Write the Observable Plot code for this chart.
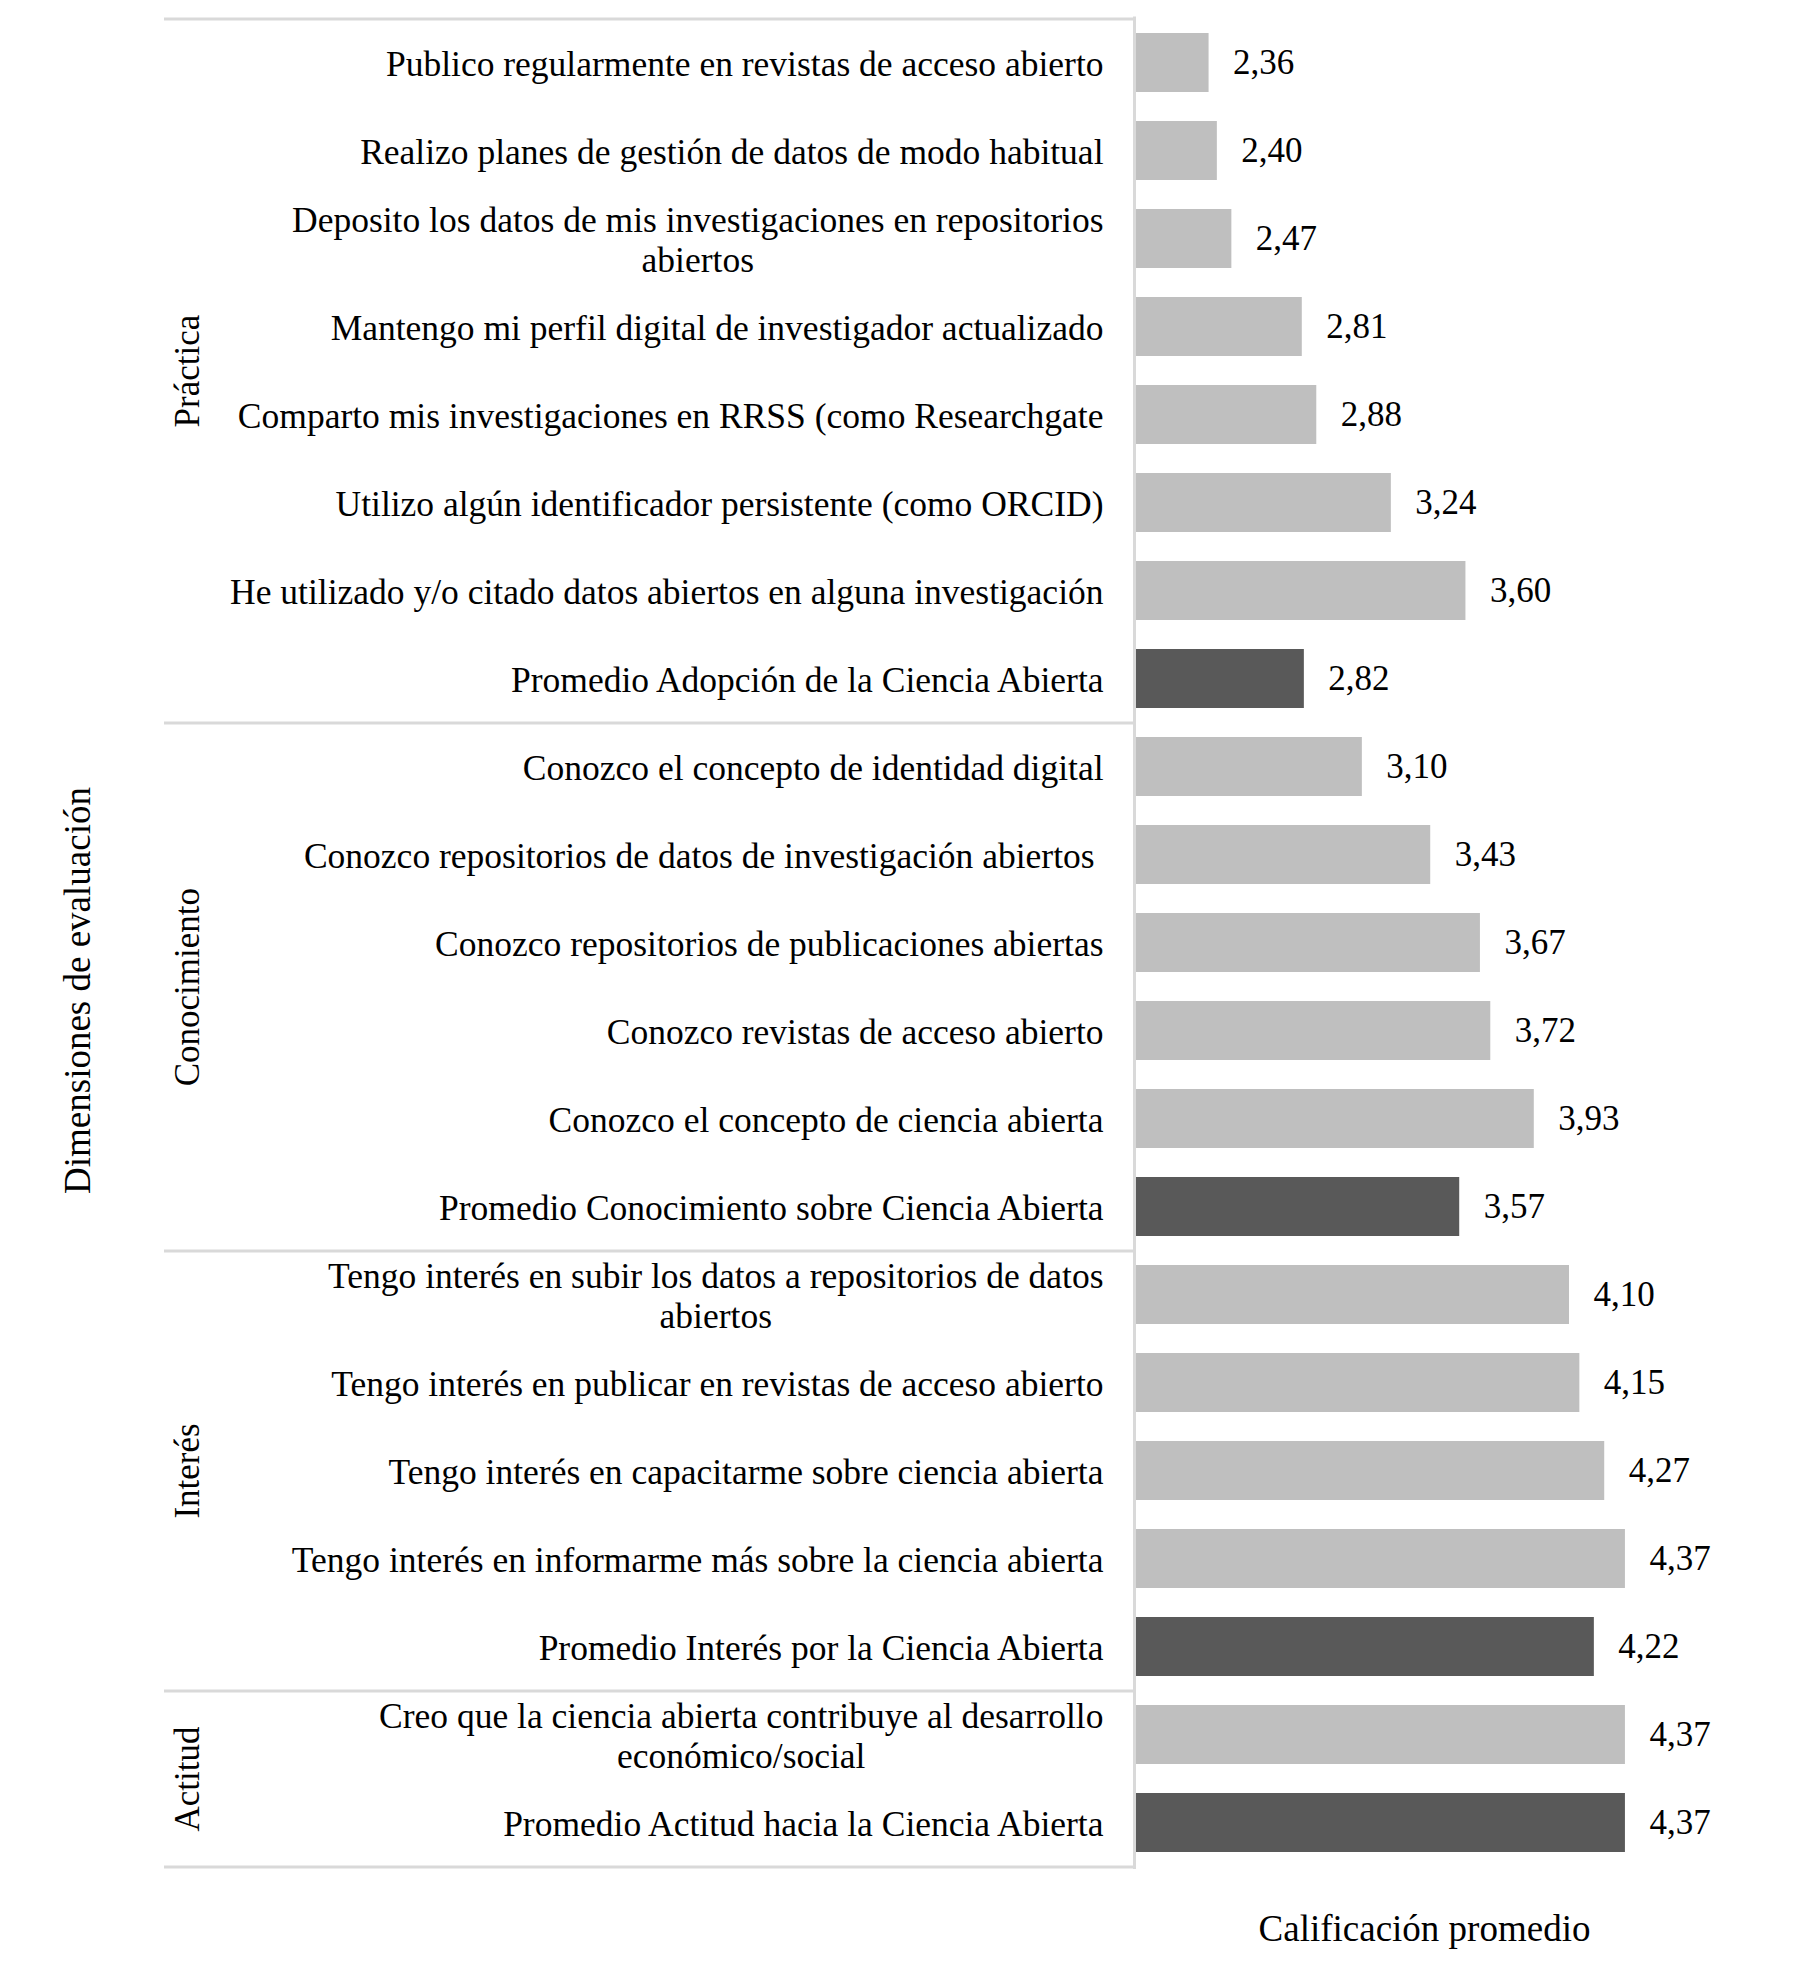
<!DOCTYPE html>
<html>
<head>
<meta charset="utf-8">
<script src="https://cdn.jsdelivr.net/npm/d3@7"></script>
<script src="https://cdn.jsdelivr.net/npm/@observablehq/plot@0.6"></script>
<style>
  html, body { margin: 0; padding: 0; background: #fff; }
</style>
</head>
<body>
<div id="chart"></div>
<script>
// ---- data ----
const categories = [
  "Publico regularmente en revistas de acceso abierto",
  "Realizo planes de gestión de datos de modo habitual",
  "Deposito los datos de mis investigaciones en repositorios\nabiertos",
  "Mantengo mi perfil digital de investigador actualizado",
  "Comparto mis investigaciones en RRSS (como Researchgate",
  "Utilizo algún identificador persistente (como ORCID)",
  "He utilizado y/o citado datos abiertos en alguna investigación",
  "Promedio Adopción de la Ciencia Abierta",
  "Conozco el concepto de identidad digital",
  "Conozco repositorios de datos de investigación abiertos\u00a0",
  "Conozco repositorios de publicaciones abiertas",
  "Conozco revistas de acceso abierto",
  "Conozco el concepto de ciencia abierta",
  "Promedio Conocimiento sobre Ciencia Abierta",
  "Tengo interés en subir los datos a repositorios de datos\nabiertos",
  "Tengo interés en publicar en revistas de acceso abierto",
  "Tengo interés en capacitarme sobre ciencia abierta",
  "Tengo interés en informarme más sobre la ciencia abierta",
  "Promedio Interés por la Ciencia Abierta",
  "Creo que la ciencia abierta contribuye al desarrollo\neconómico/social",
  "Promedio Actitud hacia la Ciencia Abierta"
];
const values = [
  2.36, 2.40, 2.47, 2.81, 2.88, 3.24, 3.60, 2.82,
  3.10, 3.43, 3.67, 3.72, 3.93, 3.57,
  4.10, 4.15, 4.27, 4.37, 4.22,
  4.37, 4.37
];
const groups = [
  "Práctica","Práctica","Práctica","Práctica","Práctica","Práctica","Práctica","Práctica",
  "Conocimiento","Conocimiento","Conocimiento","Conocimiento","Conocimiento","Conocimiento",
  "Interés","Interés","Interés","Interés","Interés",
  "Actitud","Actitud"
];
const isAverage = [
  false,false,false,false,false,false,false,true,
  false,false,false,false,false,true,
  false,false,false,false,true,
  false,true
];
const groupNames = ["Práctica", "Conocimiento", "Interés", "Actitud"];
const xTitle = "Calificación promedio";
const yTitle = "Dimensiones de evaluación";

// ---- layout ----
const W = 1800, H = 1980;
const mt = 16.4, mb = 111, ml = 1134, mr = 86;
const step = (H - mt - mb) / categories.length;
const frameLeft = 164;
const font = "'Liberation Serif', 'Times New Roman', serif";

const rows = categories.map((c, i) => ({cat: c, value: values[i], group: groups[i], avg: isAverage[i]}));

const groupLabels = groupNames.map(g => {
  const idx = rows.map((r, i) => r.group === g ? i : -1).filter(i => i >= 0);
  const mid = (idx[0] + idx[idx.length - 1]) / 2;
  return {name: g, cat: categories[Math.floor(mid)], off: (mid - Math.floor(mid)) * step};
});
const groupEnds = groupNames.map(g => {
  const idx = rows.map((r, i) => r.group === g ? i : -1).filter(i => i >= 0);
  return categories[idx[idx.length - 1]];
});

const lineColor = "#d9d9d9";

const chart = Plot.plot({
  width: W,
  height: H,
  marginTop: mt,
  marginBottom: mb,
  marginLeft: ml,
  marginRight: mr,
  style: {fontFamily: font, color: "#000", background: "#fff"},
  x: {domain: [2, 4.8], axis: null},
  y: {domain: categories, paddingInner: 0.33, paddingOuter: 0.165, axis: null},
  marks: [
    Plot.barX(rows, {
      y: "cat", x1: 2, x2: "value",
      fill: d => d.avg ? "#595959" : "#bfbfbf"
    }),
    Plot.text(rows, {
      y: "cat", x: "value",
      text: d => d.value.toFixed(2).replace(".", ","),
      textAnchor: "start", dx: 24, fontSize: 35, fill: "#000"
    }),
    Plot.axisY({
      tickSize: 0, tickPadding: 31, fontSize: 35.5, lineHeight: 1.14, label: null, fill: "#000"
    }),
    // frame lines
    Plot.ruleY([categories[0]], {
      y: d => d, dy: -step / 2, stroke: lineColor, strokeWidth: 3,
      insetLeft: -(ml - frameLeft), insetRight: W - mr - ml
    }),
    Plot.ruleY(groupEnds, {
      y: d => d, dy: step / 2, stroke: lineColor, strokeWidth: 3,
      insetLeft: -(ml - frameLeft), insetRight: W - mr - ml
    }),
    Plot.ruleX([2], {stroke: lineColor, strokeWidth: 3}),
    // group labels
    ...groupLabels.map(gl => Plot.text([gl], {
      y: "cat", text: "name", frameAnchor: "left", textAnchor: "middle",
      dx: 187 - ml, dy: gl.off,
      rotate: -90, fontSize: 35, fill: "#000"
    })),
    // axis titles
    Plot.text([yTitle], {
      text: d => d, frameAnchor: "left", textAnchor: "middle",
      dx: 78 - ml, dy: H / 2 - (mt + (H - mt - mb) / 2),
      rotate: -90, fontSize: 37, fill: "#000"
    }),
    Plot.text([xTitle], {
      text: d => d, frameAnchor: "bottom", textAnchor: "middle", dy: 60, lineAnchor: "middle",
      fontSize: 37, fill: "#000"
    })
  ]
});

document.getElementById("chart").appendChild(chart);

// center the lines of wrapped category labels (as in the original)
chart.querySelectorAll('g[aria-label="y-axis tick label"] text').forEach(t => {
  const spans = t.querySelectorAll("tspan");
  if (spans.length > 1) {
    let maxW = 0;
    spans.forEach(s => { maxW = Math.max(maxW, s.getComputedTextLength()); });
    t.setAttribute("text-anchor", "middle");
    spans.forEach(s => s.setAttribute("x", -maxW / 2));
  }
});
</script>
</body>
</html>
